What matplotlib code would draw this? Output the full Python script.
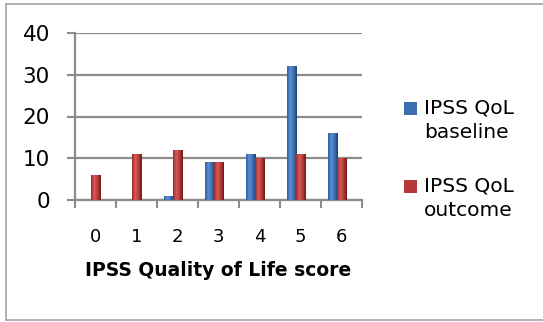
import matplotlib
matplotlib.use("Agg")
import matplotlib.pyplot as plt
import numpy as np
from matplotlib.patches import Rectangle
from matplotlib.lines import Line2D
from matplotlib.colors import LinearSegmentedColormap

categories = ["0", "1", "2", "3", "4", "5", "6"]
baseline = [0, 0, 1, 9, 11, 32, 16]
outcome = [6, 11, 12, 9, 10, 11, 10]
series_names = ["IPSS QoL\nbaseline", "IPSS QoL\noutcome"]
yticks = [0, 10, 20, 30, 40]
xlabel = "IPSS Quality of Life score"

plt.rcParams['font.family'] = ['DejaVu Sans']

W, H = 543, 322
fig = plt.figure(figsize=(W / 100, H / 100), dpi=100)
ax = fig.add_axes([75 / W, 1 - 200 / H, 287 / W, 167 / H])

x = np.arange(len(categories))
w = 0.22
blue_cmap = LinearSegmentedColormap.from_list("b", ["#2f5e9c", "#5a8fd2", "#3f72b5", "#1d3f6e"])
red_cmap = LinearSegmentedColormap.from_list("r", ["#962c2a", "#d65b58", "#b83b38", "#6a1b1a"])
blue_solid, red_solid = "#3d6fb0", "#b53a37"

b1 = ax.bar(x - w, baseline, w, color=blue_solid, zorder=3)
b2 = ax.bar(x, outcome, w, color=red_solid, zorder=3)

grad = np.linspace(0, 1, 64).reshape(1, -1)
for bars, cmap in ((b1, blue_cmap), (b2, red_cmap)):
    for r in bars:
        h = r.get_height()
        if h <= 0:
            continue
        x0 = r.get_x()
        im = ax.imshow(grad, cmap=cmap, aspect="auto",
                       extent=(x0, x0 + r.get_width(), 0, h), zorder=4)
        im.set_clip_path(r)

ax.set_xlim(-0.5, len(categories) - 0.5)
ax.set_ylim(0, 40)
ax.set_yticks(yticks)
ax.set_xticks(x)
ax.set_xticklabels(categories)
ax.set_xticks(np.arange(-0.5, len(categories), 1), minor=True)
ax.tick_params(axis="x", which="major", length=0, labelsize=13, pad=20)
ax.tick_params(axis="x", which="minor", length=6, color="#8c8c8c", width=1.5)
ax.tick_params(axis="y", length=6, color="#8c8c8c", width=1.5, labelsize=15.5, pad=12)
ax.grid(axis="y", color="#8c8c8c", linewidth=1.6, zorder=0)
ax.set_axisbelow(True)
for s in ("top", "right"):
    ax.spines[s].set_visible(False)
for s in ("left", "bottom"):
    ax.spines[s].set_color("#8c8c8c")
    ax.spines[s].set_linewidth(1.6)
ax.set_xlabel(xlabel, fontsize=13.5, fontweight="bold", labelpad=11)

# legend (manual, Excel-style wrapped entries)
entries = [(series_names[0], blue_solid, 102), (series_names[1], red_solid, 180)]
for name, col, ytop in entries:
    fig.patches.append(Rectangle((404 / W, 1 - (ytop + 13) / H), 13 / W, 13 / H,
                                 transform=fig.transFigure, facecolor=col,
                                 edgecolor="none"))
    fig.text(424 / W, 1 - (ytop - 4) / H, name, fontsize=14.5, va="top", ha="left",
             linespacing=1.42)

# chart border (left, top, bottom only; right edge lies outside the image)
bx0, by_top, by_bot = 6 / W, 1 - 4 / H, 1 - 320 / H
for xs, ys in (([bx0, bx0], [by_bot, by_top]), ([bx0, 1.0], [by_top, by_top]),
               ([bx0, 1.0], [by_bot, by_bot])):
    fig.lines.append(Line2D(xs, ys, transform=fig.transFigure, color="#a6a6a6",
                            linewidth=1.2))

fig.savefig("out.png", dpi=100)
